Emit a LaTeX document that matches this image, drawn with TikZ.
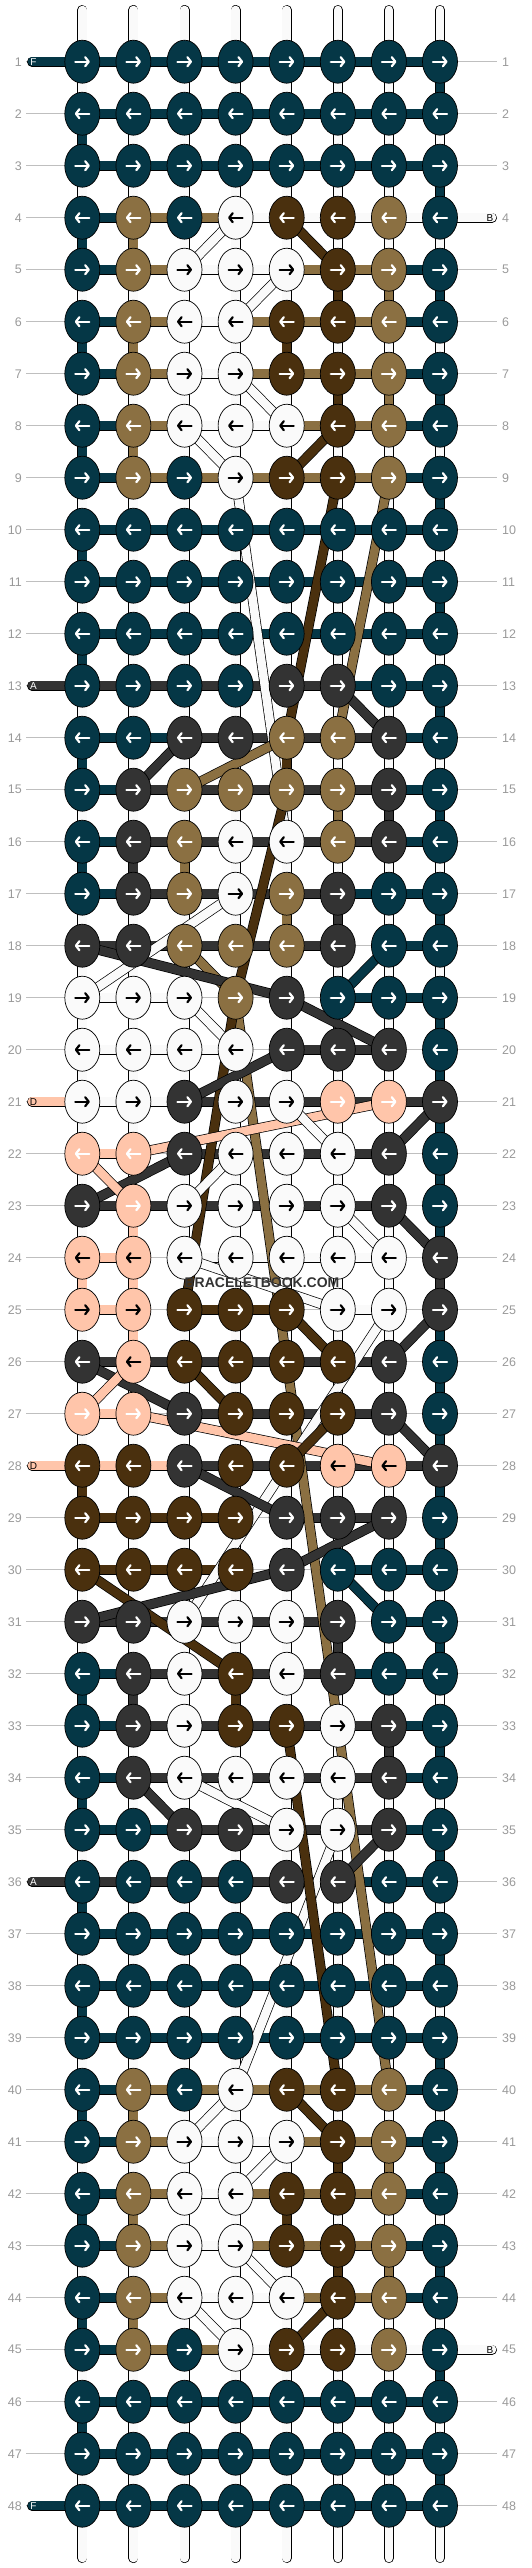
\documentclass[tikz,border=0pt]{standalone}
\usepackage{fontspec}
\setmainfont{Liberation Sans}
\usetikzlibrary{shapes.geometric,arrows.meta}

\definecolor{cT}{HTML}{053746}
\definecolor{cL}{HTML}{8B7042}
\definecolor{cD}{HTML}{4A300E}
\definecolor{cW}{HTML}{FAFAFA}
\definecolor{cG}{HTML}{333333}
\definecolor{cP}{HTML}{FFC5AA}
\colorlet{cQ}{cP}
\colorlet{aT}{white}
\colorlet{aL}{white}
\colorlet{aD}{white}
\colorlet{aG}{white}
\colorlet{aW}{black}
\colorlet{aP}{black}
\colorlet{aQ}{white}

\tikzset{
  band/.style={line width=.7pt, double=c#1, double distance=8.6pt},
  kn/.style={ellipse, draw, line width=.7pt, fill=c#1, minimum width=35pt, minimum height=43pt, inner sep=0pt},
  arr/.style={draw=a#1, line width=2.2pt, line cap=round, -{Straight Barb[length=3.5pt,width=9pt,round]}},
  rowno/.style={text=black!40, inner sep=0pt, font=\fontsize{12.5}{12.5}\selectfont},
  rowline/.style={draw=black!25, line width=.8pt},
  tag/.style={inner sep=0pt, font=\fontsize{10}{10}\selectfont},
  wmark/.style={text=cG, font=\fontsize{14}{14}\selectfont\bfseries}
}

% row / knot colours / working string between neighbours (N = none)
\newcommand\knotrows{
1/{T,T,T,T,T,T,T,T}/{T,T,T,T,T,T,T},
2/{T,T,T,T,T,T,T,T}/{T,T,T,T,T,T,T},
3/{T,T,T,T,T,T,T,T}/{T,T,T,T,T,T,T},
4/{T,L,T,W,D,D,L,T}/{T,L,L,W,W,W,W},
5/{T,L,W,W,W,D,L,T}/{T,L,W,W,L,L,T},
6/{T,L,W,W,D,D,L,T}/{T,L,W,L,L,L,T},
7/{T,L,W,W,D,D,L,T}/{T,L,W,L,L,L,T},
8/{T,L,W,W,W,D,L,T}/{T,L,W,W,L,L,T},
9/{T,L,T,W,D,D,L,T}/{T,L,L,L,L,L,T},
10/{T,T,T,T,T,T,T,T}/{T,T,T,T,T,T,T},
11/{T,T,T,T,T,T,T,T}/{T,T,T,T,T,T,T},
12/{T,T,T,T,T,T,T,T}/{T,T,T,T,T,T,T},
13/{T,T,T,T,G,G,T,T}/{G,G,G,G,G,T,T},
14/{T,T,G,G,L,L,G,T}/{T,T,G,G,G,G,T},
15/{T,G,L,L,L,L,G,T}/{T,G,G,G,G,G,T},
16/{T,G,L,W,W,L,G,T}/{T,G,G,G,G,G,T},
17/{T,G,L,W,L,G,T,T}/{T,G,G,G,G,T,T},
18/{G,G,L,L,L,G,T,T}/{G,G,G,G,G,N,T},
19/{W,W,W,L,G,T,T,T}/{W,W,N,N,N,T,T},
20/{W,W,W,W,G,G,G,T}/{W,W,W,N,G,G,N},
21/{W,W,G,W,W,Q,Q,G}/{W,W,G,G,G,G,G},
22/{Q,Q,G,W,W,W,G,T}/{P,N,G,G,G,G,N},
23/{G,Q,W,W,W,W,G,T}/{G,G,G,G,G,G,N},
24/{P,P,W,W,W,W,W,G}/{P,N,W,W,W,W,N},
25/{P,P,D,D,D,W,W,G}/{P,N,D,D,N,W,N},
26/{G,P,D,D,D,D,G,T}/{G,G,G,G,G,G,N},
27/{Q,Q,G,D,D,D,G,T}/{P,N,G,G,G,G,N},
28/{D,D,G,D,D,P,P,G}/{P,P,G,G,G,G,G},
29/{D,D,D,D,G,G,G,T}/{D,D,D,N,G,G,N},
30/{D,D,D,D,G,T,T,T}/{D,D,D,N,N,T,T},
31/{G,G,W,W,W,G,T,T}/{G,G,G,G,G,N,T},
32/{T,G,W,D,W,G,T,T}/{T,G,G,G,G,T,T},
33/{T,G,W,D,D,W,G,T}/{T,G,G,G,G,G,T},
34/{T,G,W,W,W,W,G,T}/{T,G,G,G,G,G,T},
35/{T,T,G,G,W,W,G,T}/{T,T,G,G,G,G,T},
36/{T,T,T,T,G,G,T,T}/{G,G,G,G,G,T,T},
37/{T,T,T,T,T,T,T,T}/{T,T,T,T,T,T,T},
38/{T,T,T,T,T,T,T,T}/{T,T,T,T,T,T,T},
39/{T,T,T,T,T,T,T,T}/{T,T,T,T,T,T,T},
40/{T,L,T,W,D,D,L,T}/{T,L,L,L,L,L,T},
41/{T,L,W,W,W,D,L,T}/{T,L,W,W,L,L,T},
42/{T,L,W,W,D,D,L,T}/{T,L,W,L,L,L,T},
43/{T,L,W,W,D,D,L,T}/{T,L,W,L,L,L,T},
44/{T,L,W,W,W,D,L,T}/{T,L,W,W,L,L,T},
45/{T,L,T,W,D,D,L,T}/{T,L,L,W,W,W,W},
46/{T,T,T,T,T,T,T,T}/{T,T,T,T,T,T,T},
47/{T,T,T,T,T,T,T,T}/{T,T,T,T,T,T,T},
48/{T,T,T,T,T,T,T,T}/{T,T,T,T,T,T,T}}

% strings running down from row r to row r+1
\newcommand\gaprows{
1/{W,W,W,W,W,W,W,T}, 2/{T,W,W,W,W,W,W,W}, 3/{W,W,W,W,W,W,W,T},
4/{T,L,W,W,W,W,W,W}, 5/{W,W,W,W,W,D,L,T}, 6/{T,L,W,W,D,W,W,W},
7/{W,W,W,W,W,D,L,T}, 8/{T,L,W,W,W,W,W,W}, 9/{W,W,W,W,W,W,W,T},
10/{T,W,W,W,W,W,W,W}, 11/{W,W,W,W,W,W,W,T}, 12/{T,W,W,W,W,W,W,W},
13/{W,W,W,W,W,W,W,T}, 14/{T,W,W,W,D,W,W,W}, 15/{W,W,W,W,W,L,G,T},
16/{T,G,L,W,W,W,W,W}, 17/{W,W,W,W,L,G,W,T}, 18/{W,W,W,W,W,W,W,W},
19/{W,W,W,W,W,W,W,T}, 20/{W,W,W,W,W,W,W,T}, 21/{W,W,W,W,W,W,W,T},
22/{W,W,W,W,W,W,W,T}, 23/{W,P,W,W,W,W,W,T}, 24/{P,P,W,W,W,W,W,G},
25/{W,P,W,W,W,W,W,T}, 26/{W,W,W,W,W,W,W,T}, 27/{W,W,W,W,W,W,W,T},
28/{D,W,W,W,W,W,W,T}, 29/{W,W,W,W,W,W,W,T}, 30/{W,W,W,W,W,W,W,W},
31/{W,W,W,W,W,G,W,T}, 32/{T,G,W,D,W,W,W,W}, 33/{W,W,W,W,W,W,G,T},
34/{T,W,W,W,W,W,W,W}, 35/{W,W,W,W,W,W,W,T}, 36/{T,W,W,W,W,W,W,W},
37/{W,W,W,W,W,W,W,T}, 38/{T,W,W,W,W,W,W,W}, 39/{W,W,W,W,W,W,W,T},
40/{T,L,W,W,W,W,W,W}, 41/{W,W,W,W,W,D,L,T}, 42/{T,L,W,W,D,W,W,W},
43/{W,W,W,W,W,D,L,T}, 44/{T,L,W,W,W,W,W,W}, 45/{W,W,W,W,W,W,W,T},
46/{T,W,W,W,W,W,W,W}, 47/{W,W,W,W,W,W,W,T}}

% strings that jump across the grid
\newcommand\strands{
W/4-4/5-3, D/4-5/5-6, W/5-5/6-4, W/7-4/8-5, W/8-3/9-4, D/8-6/9-5,
W/9-4/16-5, D/9-6/14-5, L/9-7/14-6, G/13-6/14-7, G/14-3/15-2, L/14-5/15-3,
D/15-5/19-4, W/17-4/19-1, L/18-3/19-4, G/18-1/19-5, G/19-5/20-7, T/18-7/19-6,
W/19-3/20-4, L/19-4/40-7, D/19-4/25-3, G/20-5/21-3, G/21-8/22-7, P/21-7/22-2,
W/21-5/22-6, G/22-3/23-1, P/22-1/23-2, W/22-4/23-3, G/23-7/24-8, W/23-6/24-7,
W/24-3/25-6, G/25-8/26-7, D/25-5/26-6, W/25-7/31-3, G/26-1/27-3, D/26-3/27-4,
P/26-2/27-1, P/27-2/28-7, D/27-6/28-5, G/27-7/28-8, G/28-3/29-5, G/29-7/30-5,
G/30-5/31-1, D/30-1/32-4, T/30-6/31-7, G/34-2/35-3, W/34-3/35-5, G/35-7/36-6,
W/35-6/40-4, D/33-5/40-6, W/40-4/41-3, D/40-5/41-6, W/41-5/42-4, W/43-4/44-5,
W/44-3/45-4, D/44-6/45-5}

\begin{document}
\begin{tikzpicture}[x=1pt,y=-1pt]
\useasboundingbox (0,0) rectangle (532,2568);

% grid points
\foreach \r in {1,...,48}
  \foreach \c in {1,...,8}
    \coordinate (p\r-\c) at ({82.3+51.1*(\c-1)},{61.7+52*(\r-1)});

% row numbers
\foreach \r in {1,...,48} {
  \node[rowno, anchor=east] (ln\r) at (22,{61.7+52*(\r-1)}) {\r};
  \node[rowno, anchor=west] (rn\r) at (502,{61.7+52*(\r-1)}) {\r};
  \draw[rowline, shorten <=4pt, shorten >=5pt] (ln\r.east) -- (rn\r.west);
}

% loose ends at top and bottom
\foreach \c in {1,...,8} {
  \coordinate (top\c) at ({82.3+51.1*(\c-1)},10);
  \coordinate (bot\c) at ({82.3+51.1*(\c-1)},2558);
  \draw[band=W, line cap=round] (top\c) -- (p1-\c);
  \draw[band=W, line cap=round] (bot\c) -- (p48-\c);
}

% vertical strings
\foreach \r/\vs in \gaprows {
  \pgfmathtruncatemacro\rr{\r+1}
  \foreach \v [count=\c] in \vs
    \draw[band=\v] (p\r-\c) -- (p\rr-\c);
}

% working strings
\foreach \r/\ks/\hs in \knotrows
  \foreach \h [count=\c] in \hs {
    \pgfmathtruncatemacro\cc{\c+1}
    \if\h N\else \draw[band=\h] (p\r-\c) -- (p\r-\cc); \fi
  };

% new strings coming in
\foreach \r/\t/\s/\txt in {1/F/T/white, 13/A/G/white, 21/D/P/black, 28/D/P/black, 36/A/G/white, 48/F/T/white} {
  \coordinate (tl\r) at (32,{61.7+52*(\r-1)});
  \draw[band=\s, line cap=round] (tl\r) -- (p\r-1);
  \node[tag, text=\txt] at ([xshift=1.5pt]tl\r) {\t};
}
\foreach \r in {4,45} {
  \coordinate (tr\r) at (492,{61.7+52*(\r-1)});
  \draw[band=W, line cap=round] (tr\r) -- (p\r-8);
  \node[tag] at ([xshift=-2pt]tr\r) {B};
}

% jumps
\foreach \s/\a/\b in \strands
  \draw[band=\s] (p\a) -- (p\b);

% knots
\foreach \r/\ks/\hs in \knotrows
  \foreach \k [count=\c] in \ks {
    \node[kn=\k] (k\r-\c) at (p\r-\c) {};
    \ifodd\r
      \draw[arr=\k] ([xshift=-7pt]k\r-\c.center) -- ([xshift=7.5pt]k\r-\c.center);
    \else
      \draw[arr=\k] ([xshift=7pt]k\r-\c.center) -- ([xshift=-7.5pt]k\r-\c.center);
    \fi
  };

\node[wmark] (wm) at (262,1283) {BRACELETBOOK.COM};

\end{tikzpicture}
\end{document}
